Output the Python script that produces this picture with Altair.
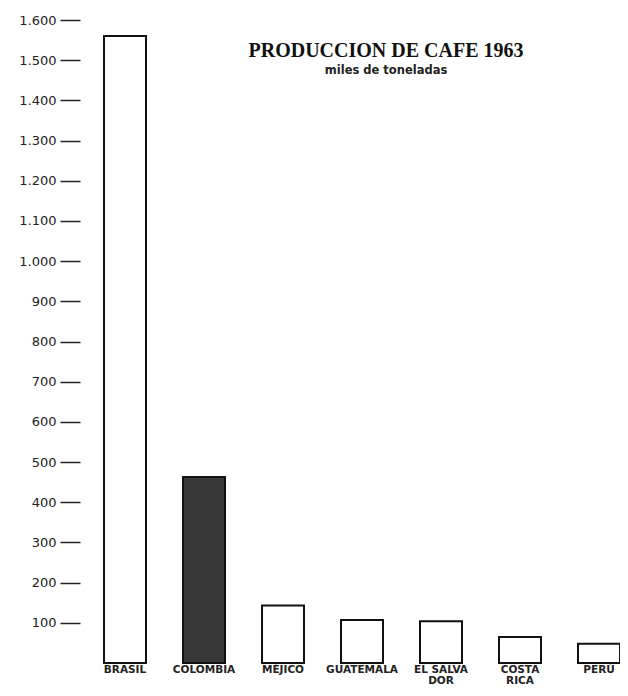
import altair as alt
import pandas as pd

countries = ["Brasil", "Colombia", "Méjico", "Guatemala", "El Salvador", "Costa Rica", "Perú"]
labels = ["BRASIL", "COLOMBIA", "MÉJICO", "GUATEMALA", "EL SALVA\nDOR", "COSTA\nRICA", "PERÚ"]
production = [1560, 463, 143, 107, 104, 65, 48]
y_ticks = list(range(100, 1700, 100))

df = pd.DataFrame({"country": countries, "label": labels, "value": production})

W, H = 540, 643

x = alt.X("country:N", sort=countries, axis=None,
          scale=alt.Scale(paddingInner=0.4684, paddingOuter=0.152, align=1))

bars = alt.Chart(df).mark_bar(stroke="#111", strokeWidth=2).encode(
    x=x,
    y=alt.Y("value:Q", title=None,
            scale=alt.Scale(domain=[0, 1600], nice=False),
            axis=alt.Axis(values=y_ticks,
                          labelExpr="datum.value >= 1000 ? '1.' + substring(toString(datum.value), 1) : toString(datum.value)",
                          tickSize=20, tickWidth=1.5, tickColor="#222",
                          domain=False, grid=False,
                          labelFont="DejaVu Sans", labelFontSize=13,
                          labelColor="#222", labelPadding=4)),
    fill=alt.condition(alt.datum.country == "Colombia", alt.value("#383838"), alt.value("white")),
)

xlabels = alt.Chart(df).mark_text(
    baseline="top", align="center", lineBreak="\n", lineHeight=11,
    font="DejaVu Sans", fontSize=10.5, fontWeight="bold", color="#222"
).encode(x=x, y=alt.value(H + 2), text="label:N")

title = alt.Chart(pd.DataFrame({"t": ["PRODUCCION DE CAFE 1963"]})).mark_text(
    font="Liberation Serif", fontSize=20, fontWeight="bold", color="#111",
    align="center", baseline="middle"
).encode(x=alt.value(306), y=alt.value(31), text="t:N")

subtitle = alt.Chart(pd.DataFrame({"t": ["miles de toneladas"]})).mark_text(
    font="DejaVu Sans", fontSize=11.5, fontWeight="bold", color="#222",
    align="center", baseline="middle"
).encode(x=alt.value(306), y=alt.value(51), text="t:N")

chart = alt.layer(bars, xlabels, title, subtitle).properties(
    width=W, height=H,
    autosize=alt.AutoSizeParams(type="none"),
    padding={"left": 72, "top": 12, "right": 0, "bottom": 24},
    background="white",
).configure_view(stroke=None)

chart.save("out.html", embed_options={"renderer": "svg", "actions": False})
